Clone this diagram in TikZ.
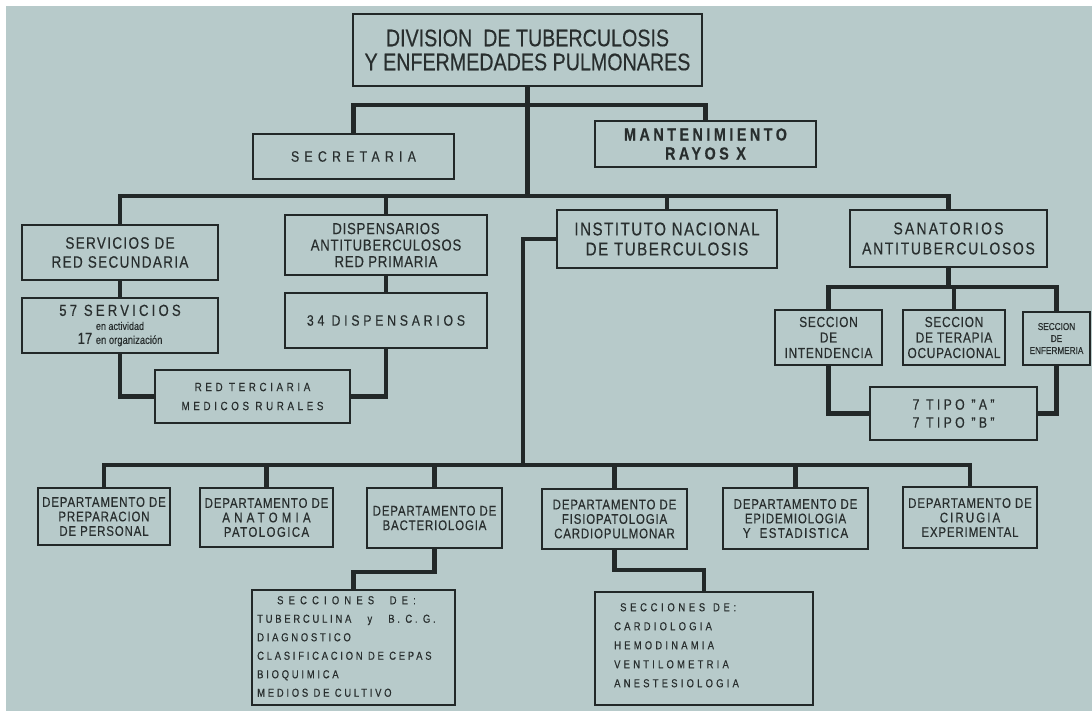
\documentclass[tikz,border=0pt]{standalone}
\usepackage{fontspec}
\setmainfont{Liberation Sans}[FakeStretch=0.82,FakeBold=0.35]
\usetikzlibrary{calc}
\definecolor{bg}{RGB}{183,202,202}
\definecolor{ink}{RGB}{34,40,40}
\definecolor{txt}{RGB}{40,46,46}
\newcommand\ls[1]{\addfontfeatures{LetterSpace=#1}}
\newcommand\fs[2]{\fontsize{#1}{#2}\selectfont}
\begin{document}
\begin{tikzpicture}[x=1pt,y=-1pt,
  box/.style={draw=ink, line width=2.8pt, fill=bg, inner sep=0pt, align=center, text=txt},
  conn/.style={draw=ink, line width=4.4pt, line join=miter},
  dep/.style={box, font=\fs{14}{14.5}\ls{6}}]
\useasboundingbox (0,0) rectangle (1092,711);
\fill[white] (0,0) rectangle (1092,711);
\fill[bg] (6,6) rectangle (1092,711);
% top level
\node[box, minimum width=349pt, minimum height=72pt, font=\fs{24}{24}] (div) at (527.5,50) {DIVISION\ \ DE TUBERCULOSIS\\Y ENFERMEDADES PULMONARES};
\node[box, minimum width=201pt, minimum height=45pt, font=\fs{15}{18}] (sec) at (353.5,156.5) {\ls{35}SECRETARIA};
\node[box, minimum width=221pt, minimum height=46pt, font=\bfseries\fs{17.5}{19}] (man) at (705.5,144) {{\ls{20}MANTENIMIENTO}\\{\ls{20}RAYOS X}};
% second level
\node[box, minimum width=196pt, minimum height=55pt, font=\fs{16.5}{19}] (serv) at (120,252.5) {{\ls{8}SERVICIOS DE}\\{\ls{8}RED SECUNDARIA}};
\node[box, minimum width=196pt, minimum height=55pt, font=\fs{16}{14}] (s57) at (120,325.5) {{\ls{20}57 SERVICIOS}\\{\fs{11}{12}en actividad}\\17 {\fs{11.5}{12}en organización}};
\node[box, minimum width=202pt, minimum height=60pt, font=\fs{16}{16.5}] (disp) at (386,245) {{\ls{5}DISPENSARIOS}\\{\ls{5}ANTITUBERCULOSOS}\\{\ls{5}RED PRIMARIA}};
\node[box, minimum width=202pt, minimum height=55pt, font=\fs{15}{18}] (d34) at (386,320.5) {\ls{25}34 DISPENSARIOS};
\node[box, minimum width=195pt, minimum height=53pt, font=\fs{12}{19}] (red3) at (252.5,396.5) {{\ls{30}RED TERCIARIA}\\{\ls{30}MEDICOS RURALES}};
\node[box, minimum width=220pt, minimum height=58pt, font=\fs{18.5}{20}] (inst) at (667,239) {{\ls{8}INSTITUTO NACIONAL}\\{\ls{8}DE TUBERCULOSIS}};
\node[box, minimum width=197pt, minimum height=57pt, font=\fs{17}{20}] (sana) at (948.5,238.5) {{\ls{13}SANATORIOS}\\{\ls{10}ANTITUBERCULOSOS}};
% sanatorios sections
\node[box, minimum width=107pt, minimum height=55pt, font=\fs{14.5}{15.5}\ls{5}] (sint) at (828.5,337.5) {SECCION\\DE\\INTENDENCIA};
\node[box, minimum width=102pt, minimum height=55pt, font=\fs{14.5}{15.5}\ls{5}] (ster) at (954,337.5) {SECCION\\DE TERAPIA\\OCUPACIONAL};
\node[box, minimum width=67pt, minimum height=53pt, font=\fs{10}{12}] (senf) at (1056.5,338.5) {SECCION\\DE\\ENFERMERIA};
\node[box, minimum width=167pt, minimum height=53pt, font=\fs{15}{18}] (tipo) at (953.5,413.5) {{\ls{22}7 TIPO "A"}\\{\ls{22}7 TIPO "B"}};
% departments
\node[dep, minimum width=132pt, minimum height=57pt] (dprep) at (104,516.5) {DEPARTAMENTO DE\\PREPARACION\\DE PERSONAL};
\node[dep, minimum width=133pt, minimum height=59pt] (danat) at (266.5,517.5) {DEPARTAMENTO DE\\{\ls{30}ANATOMIA}\\{\ls{10}PATOLOGICA}};
\node[dep, minimum width=135pt, minimum height=60pt] (dbact) at (434.5,518) {DEPARTAMENTO DE\\BACTERIOLOGIA};
\node[dep, minimum width=145pt, minimum height=60pt] (dfis) at (614.5,519) {DEPARTAMENTO DE\\FISIOPATOLOGIA\\CARDIOPULMONAR};
\node[dep, minimum width=145pt, minimum height=61pt] (depi) at (795.5,518.5) {DEPARTAMENTO DE\\EPIDEMIOLOGIA\\{\ls{10}Y\ \ ESTADISTICA}};
\node[dep, minimum width=134pt, minimum height=61pt] (dcir) at (970,517.5) {DEPARTAMENTO DE\\{\ls{15}CIRUGIA}\\EXPERIMENTAL};
% sections
\node[box, minimum width=203pt, minimum height=115pt] (sec1) at (353.5,647.5) {};
\node[box, minimum width=218pt, minimum height=113pt] (sec2) at (704,648.5) {};
\node[anchor=north west, inner sep=0pt, align=left, text=txt, font=\fs{11.5}{18.5}] (sec1t) at (257,596)
  {\hspace*{20pt}{\ls{45}SECCIONES\ \ DE:}\\{\ls{24}TUBERCULINA\ \ \ y\ \ \ B. C. G.}\\{\ls{24}DIAGNOSTICO}\\{\ls{24}CLASIFICACION DE CEPAS}\\{\ls{24}BIOQUIMICA}\\{\ls{24}MEDIOS DE CULTIVO}};
\node[anchor=north west, inner sep=0pt, align=left, text=txt, font=\fs{11.5}{19}] (sec2t) at (614,603)
  {\hspace*{6pt}{\ls{32}SECCIONES}\ \ \ {\ls{32}DE:}\\{\ls{28}CARDIOLOGIA}\\{\ls{28}HEMODINAMIA}\\{\ls{28}VENTILOMETRIA}\\{\ls{28}ANESTESIOLOGIA}};
% row coordinates
\coordinate (r1) at (0,105);
\coordinate (r2) at (0,196);
\coordinate (r3) at (0,287);
\coordinate (r4) at (0,465);
\coordinate (k1) at (0,572);
\coordinate (k2) at (0,570);
\coordinate (j) at (523,465);
% connectors
\draw[conn] (div.south) -- (div.south |- r2);
\draw[conn] (sec.north) -- (sec.north |- r1) -- (man.north |- r1) -- (man.north);
\draw[conn] (serv.north) -- (serv.north |- r2) -- (sana.north |- r2) -- (sana.north);
\draw[conn] (disp.north) -- (disp.north |- r2);
\draw[conn] (inst.north) -- (inst.north |- r2);
\draw[conn] (serv.south) -- (s57.north);
\draw[conn] (disp.south) -- (d34.north);
\draw[conn] (s57.south) |- (red3.west);
\draw[conn] (d34.south) |- (red3.east);
\draw[conn] (sana.south) -- (sana.south |- r3);
\draw[conn] (sint.north) -- (sint.north |- r3) -- (senf.north |- r3) -- (senf.north);
\draw[conn] (ster.north) -- (ster.north |- r3);
\draw[conn] (sint.south) |- (tipo.west);
\draw[conn] (senf.south) |- (tipo.east);
\draw[conn] (inst.west) -| (j);
\draw[conn] (dprep.north) -- (dprep.north |- r4) -- (dcir.north |- r4) -- (dcir.north);
\draw[conn] (danat.north) -- (danat.north |- r4);
\draw[conn] (dbact.north) -- (dbact.north |- r4);
\draw[conn] (dfis.north) -- (dfis.north |- r4);
\draw[conn] (depi.north) -- (depi.north |- r4);
\draw[conn] (dbact.south) -- (dbact.south |- k1) -- (sec1.north |- k1) -- (sec1.north);
\draw[conn] (dfis.south) -- (dfis.south |- k2) -- (sec2.north |- k2) -- (sec2.north);
\end{tikzpicture}
\end{document}
